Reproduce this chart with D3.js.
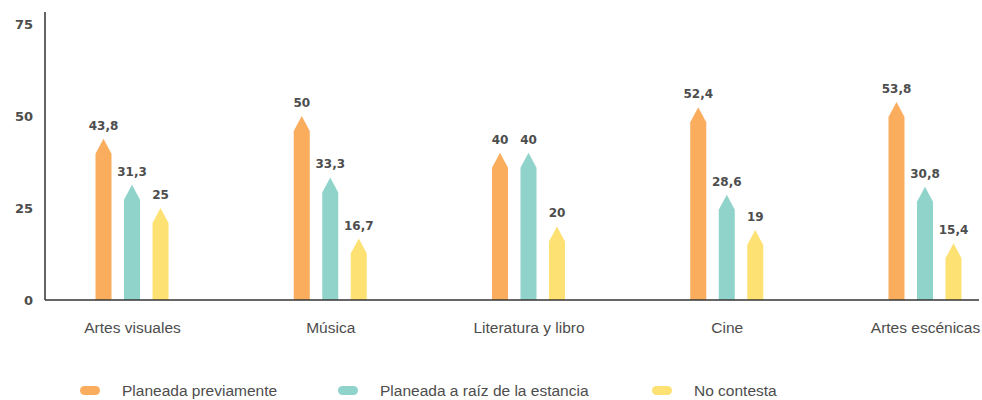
<!DOCTYPE html>
<html><head><meta charset="utf-8">
<script src="https://cdn.jsdelivr.net/npm/d3@7"></script>
<style>body{margin:0;background:#fff}svg{display:block;font-family:"Liberation Sans",Arial,sans-serif}</style>
</head><body>
<svg id="c" width="982" height="400"></svg>
<script>
const categories = ["Artes visuales","Música","Literatura y libro","Cine","Artes escénicas"];
const seriesNames = ["Planeada previamente","Planeada a raíz de la estancia","No contesta"];
const planeadaPrev = [43.8,50,40,52.4,53.8];
const planeadaRaiz = [31.3,33.3,40,28.6,30.8];
const noContesta = [25,16.7,20,19,15.4];
const yTicks = [0,25,50,75];
const colors = ["#F9AD5D","#8FD3CB","#FDE173"];
const series = [planeadaPrev, planeadaRaiz, noContesta];
const fmt = v => String(v).replace(".", ",");
const numFont = "DejaVu Sans, sans-serif";

const svg = d3.select("#c");
const y = d3.scaleLinear().domain([0,75]).range([300,24]);
const x = d3.scalePoint().domain(categories).range([132,925]);
const xs = d3.scaleBand().domain(seriesNames).range([-42.75,42.75]).padding(0);
const bw = 16, tipH = 15;

// bars
seriesNames.forEach((s,si)=>{
  const g = svg.append("g");
  categories.forEach((c,ci)=>{
    const v = series[si][ci];
    const cx = x(c) + xs(s) + xs.bandwidth()/2;
    const top = y(v), base = y(0);
    const p = d3.path();
    p.moveTo(cx - bw/2, base);
    p.lineTo(cx - bw/2, top + tipH);
    p.lineTo(cx, top);
    p.lineTo(cx + bw/2, top + tipH);
    p.lineTo(cx + bw/2, base);
    p.closePath();
    g.append("path").attr("d", p.toString()).attr("fill", colors[si]);
    g.append("text").attr("x", cx).attr("y", top - 9).attr("text-anchor","middle")
      .attr("font-family", numFont)
      .attr("font-size", 12).attr("font-weight","bold").attr("fill","#4d4d4d").text(fmt(v));
  });
});

// axes
svg.append("line").attr("x1",45).attr("x2",979).attr("y1",y(0)).attr("y2",y(0)).attr("stroke","#333").attr("stroke-width",1.5);
svg.append("line").attr("x1",45).attr("x2",45).attr("y1",12).attr("y2",y(0)).attr("stroke","#333").attr("stroke-width",1.5);
const yAxis = d3.axisLeft(y).tickValues(yTicks).tickSize(0).tickPadding(12);
const ya = svg.append("g").attr("transform","translate(45,0)").call(yAxis);
ya.select(".domain").remove();
ya.selectAll("text").attr("font-size",13).attr("font-weight","bold").attr("fill","#4d4d4d").attr("font-family",numFont);

const xAxis = d3.axisBottom(x).tickSize(0).tickPadding(22);
const xa = svg.append("g").attr("transform",`translate(0,${y(0)})`).call(xAxis);
xa.select(".domain").remove();
xa.selectAll("text").attr("font-size",15.5).attr("fill","#4d4d4d").attr("font-family","Liberation Sans, Arial, sans-serif");

// legend
const legX = [80,338,652];
seriesNames.forEach((s,i)=>{
  svg.append("rect").attr("x",legX[i]).attr("y",386).attr("width",20).attr("height",9).attr("rx",4.5).attr("fill",colors[i]);
  svg.append("text").attr("x",legX[i]+42).attr("y",396).attr("font-size",15.5).attr("fill","#4d4d4d").text(s);
});
</script>
</body></html>
